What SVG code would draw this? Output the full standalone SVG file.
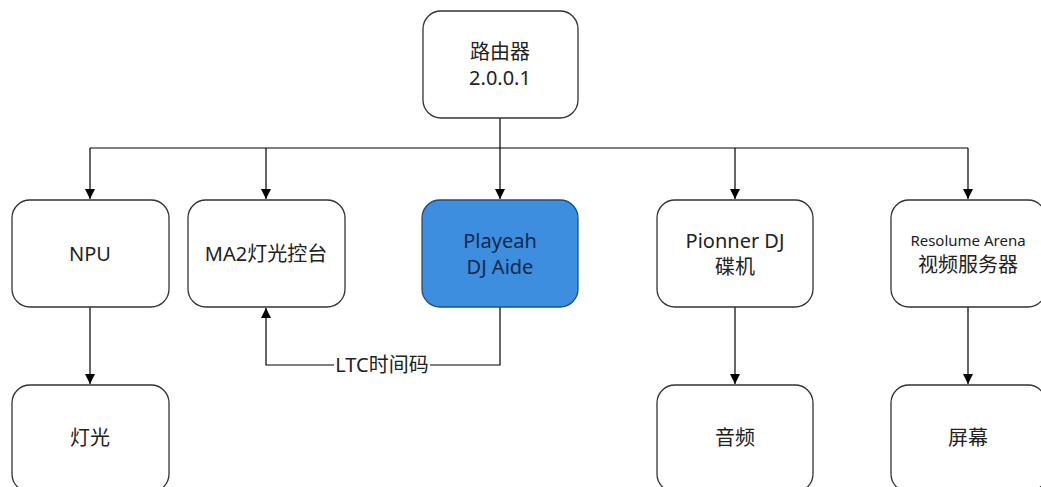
<svg xmlns="http://www.w3.org/2000/svg" width="1041" height="487" viewBox="0 0 1041 487">
<style>
.box{fill:#ffffff;stroke:#333333;stroke-width:1.3}
.blue{fill:#3d8ede;stroke:#1f4f80;stroke-width:1.3}
.t{font-family:"Noto Sans","Noto Sans CJK SC",sans-serif;font-size:20px;fill:#222222;text-anchor:middle;dominant-baseline:central}
.s{font-size:15px}
.bt{fill:#10294a}
.ln{fill:none;stroke:#000000;stroke-width:1.2}
</style>
<defs>
<marker id="ah" viewBox="0 0 10 10" refX="10" refY="5" markerWidth="10" markerHeight="10" markerUnits="userSpaceOnUse" orient="auto">
<path d="M0,0 L10,5 L0,10 z" fill="#000000"/>
</marker>
</defs>
<g id="connectors">
<path class="ln" d="M500,118 V148"/>
<path class="ln" d="M90,148 H968"/>
<path class="ln" d="M90,148 V199" marker-end="url(#ah)"/>
<path class="ln" d="M266,148 V199" marker-end="url(#ah)"/>
<path class="ln" d="M500,148 V199" marker-end="url(#ah)"/>
<path class="ln" d="M735,148 V199" marker-end="url(#ah)"/>
<path class="ln" d="M968,148 V199" marker-end="url(#ah)"/>
<path class="ln" d="M90,307 V384" marker-end="url(#ah)"/>
<path class="ln" d="M735,307 V384" marker-end="url(#ah)"/>
<path class="ln" d="M968,307 V384" marker-end="url(#ah)"/>
<path class="ln" d="M500,307 V365 H266 V308" marker-end="url(#ah)"/>
<rect x="334" y="353" width="96" height="24" fill="#ffffff"/>
<text class="t" x="382" y="364">LTC时间码</text>
</g>
<g id="router">
<rect class="box" x="423" y="11" width="155" height="107" rx="18"/>
<text class="t" x="500" y="51">路由器</text>
<text class="t" x="500" y="77">2.0.0.1</text>
</g>
<g id="npu">
<rect class="box" x="12" y="200" width="157" height="107" rx="18"/>
<text class="t" x="90" y="253">NPU</text>
</g>
<g id="ma2">
<rect class="box" x="188" y="200" width="157" height="107" rx="18"/>
<text class="t" x="266" y="253">MA2灯光控台</text>
</g>
<g id="playeah">
<rect class="blue" x="422" y="200" width="156" height="107" rx="18"/>
<text class="t bt" x="500" y="240">Playeah</text>
<text class="t bt" x="500" y="266">DJ Aide</text>
</g>
<g id="pionner">
<rect class="box" x="657" y="200" width="156" height="107" rx="18"/>
<text class="t" x="735" y="240">Pionner DJ</text>
<text class="t" x="735" y="266">碟机</text>
</g>
<g id="resolume">
<rect class="box" x="891" y="200" width="155" height="107" rx="18"/>
<text class="t s" x="968" y="240">Resolume Arena</text>
<text class="t" x="968" y="264">视频服务器</text>
</g>
<g id="light">
<rect class="box" x="12" y="385" width="157" height="107" rx="18"/>
<text class="t" x="90" y="437">灯光</text>
</g>
<g id="audio">
<rect class="box" x="657" y="385" width="156" height="107" rx="18"/>
<text class="t" x="735" y="437">音频</text>
</g>
<g id="screen">
<rect class="box" x="891" y="385" width="155" height="107" rx="18"/>
<text class="t" x="968" y="437">屏幕</text>
</g>
</svg>
